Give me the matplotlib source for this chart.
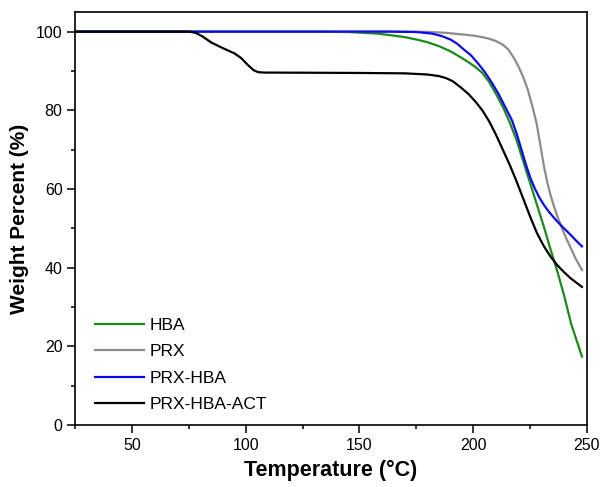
import matplotlib
matplotlib.use("Agg")
import matplotlib.pyplot as plt
from matplotlib.ticker import MultipleLocator

plt.rcParams['font.family'] = ['Liberation Sans', 'DejaVu Sans']

# HBA
hba_x = [25, 130, 145, 152, 158, 165, 170, 175, 180, 185, 190, 195, 198, 201, 204, 207,
         210, 213, 216, 219, 222, 225, 228, 231, 234, 237, 240, 243, 245.5, 247.8]
hba_y = [100, 100, 99.9, 99.7, 99.5, 99.0, 98.6, 98.0, 97.3, 96.3, 95.0, 93.3, 92.2, 91.0, 89.5, 87.2,
         84.2, 80.9, 77.0, 72.5, 67.0, 61.5, 56.0, 50.5, 44.6, 39.0, 32.8, 25.8, 21.4, 17.4]

# PRX
prx_x = [25, 170, 180, 188, 195, 200, 204, 207, 210, 213, 215.5, 218, 220, 222, 224, 226,
         227.8, 229.5, 231, 232.5, 234, 235.5, 237, 239, 241, 243, 245, 247.8]
prx_y = [100, 100, 99.95, 99.7, 99.3, 99.0, 98.6, 98.2, 97.6, 96.7, 95.4, 93.2, 91.0, 88.4, 85.2, 81.0,
         76.8, 71.2, 66.0, 61.8, 58.4, 55.6, 53.0, 50.0, 47.3, 44.8, 42.3, 39.4]

# PRX-HBA
prxhba_x = [25, 165, 175, 182, 186, 190, 193, 196, 199, 202, 205, 208, 211, 214, 217, 219,
            221, 223, 225, 227, 229, 231, 233, 235, 237, 239, 242, 245, 247.8]
prxhba_y = [100, 100, 99.9, 99.5, 98.9, 98.0, 96.9, 95.4, 94.0, 92.0, 89.8, 87.2, 84.3, 80.9, 77.5, 74.2,
            70.4, 66.5, 63.0, 60.2, 57.9, 56.0, 54.4, 53.0, 51.7, 50.5, 48.8, 47.0, 45.4]

# PRX-HBA-ACT
act_x = [25, 75, 78, 81, 85, 90, 95, 98, 101, 103.5, 105.5, 108, 150, 170, 180, 185, 188,
         191, 195, 198, 201, 204, 207, 210, 213, 216, 219, 222, 225, 228, 231, 234, 237,
         240, 243, 246, 247.8]
act_y = [100, 100, 99.7, 98.8, 97.2, 95.8, 94.5, 93.3, 91.5, 90.2, 89.7, 89.6, 89.5, 89.4, 89.1, 88.7, 88.2,
         87.4, 85.6, 84.1, 82.2, 80.0, 77.2, 73.8, 70.0, 66.2, 62.0, 57.5, 53.0, 48.8, 45.5, 42.8, 40.6,
         38.8, 37.2, 35.9, 35.1]

fig = plt.figure(figsize=(6.01, 4.87), dpi=100)
ax = fig.add_axes([0.1248, 0.1273, 0.8519, 0.8481])

lw = 1.6
ax.plot(hba_x, hba_y, color='#1b8a1b', lw=lw, label='HBA')
ax.plot(prx_x, prx_y, color='#8c8c8c', lw=lw, label='PRX')
ax.plot(prxhba_x, prxhba_y, color='#0a0aee', lw=lw, label='PRX-HBA')
ax.plot(act_x, act_y, color='black', lw=lw, label='PRX-HBA-ACT')

ax.set_xlim(25, 250)
ax.set_ylim(0, 105)
ax.xaxis.set_major_locator(MultipleLocator(50))
ax.xaxis.set_minor_locator(MultipleLocator(25))
ax.yaxis.set_major_locator(MultipleLocator(20))
ax.yaxis.set_minor_locator(MultipleLocator(10))
ax.tick_params(which='both', direction='out', top=False, right=False, width=1.1, labelsize=11.5)
ax.tick_params(which='major', length=5.5)
ax.tick_params(which='minor', length=3)
for s in ax.spines.values():
    s.set_linewidth(1.2)

ax.set_xlabel('Temperature (°C)', fontsize=15.5, fontweight='bold', labelpad=5)
ax.set_ylabel('Weight Percent (%)', fontsize=15, fontweight='bold', labelpad=5)

ax.legend(loc='lower left', frameon=False, fontsize=12.5, handlelength=2.8,
          handletextpad=0.35, labelspacing=0.64, borderpad=0.4, borderaxespad=0,
          bbox_to_anchor=(0.026, 0.015))

fig.savefig('out.png', dpi=100)
